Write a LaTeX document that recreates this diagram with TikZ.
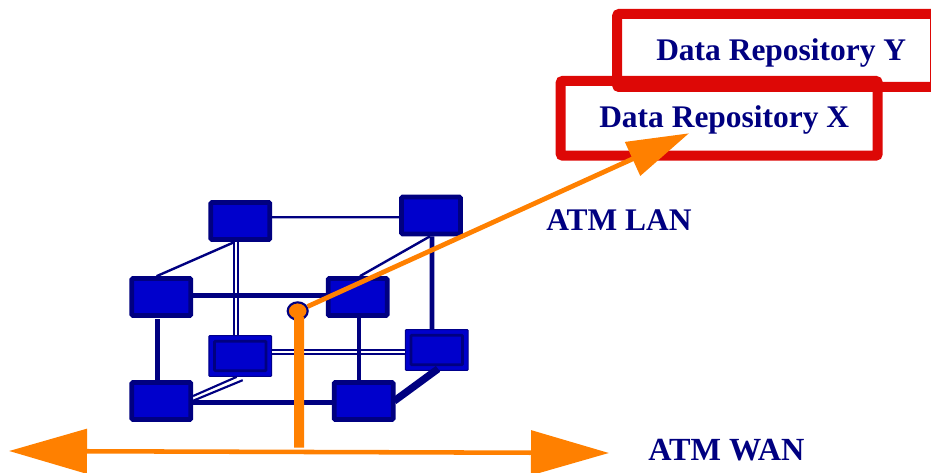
\documentclass[tikz,border=0pt]{standalone}
\usepackage{fontspec}
\setmainfont{Liberation Serif}
\usetikzlibrary{arrows.meta,shapes.geometric}
\definecolor{navyb}{HTML}{000080}
\definecolor{blueb}{HTML}{0000CC}
\definecolor{orangeb}{HTML}{FF8000}
\definecolor{redb}{HTML}{DD0806}
\tikzset{
  cube/.style={rectangle,draw=navyb,fill=blueb,line width=3.5pt,rounded corners=0.8pt,
    minimum width=44.25pt,minimum height=27.75pt,inner sep=0pt},
  inset/.style={rectangle,draw=navyb!85!blueb,fill=blueb,line width=0.8pt,rounded corners=0.6pt,
    minimum width=47pt,minimum height=30.5pt,inner sep=0pt,
    path picture={\draw[navyb,line width=2pt]
      ([xshift=4.2pt,yshift=4.2pt]path picture bounding box.south west) rectangle
      ([xshift=-4.2pt,yshift=-4.2pt]path picture bounding box.north east);}},
  thinlink/.style={navyb,line width=1.8pt},
  midlink/.style={navyb,line width=3.5pt},
  twin/.style={draw=navyb,double=white,line width=1.5pt,double distance=1.3pt},
  repo/.style={rectangle,draw=redb,line width=7.5pt,rounded corners=1.5pt,inner sep=0pt},
  label/.style={text=navyb,font=\bfseries\fontsize{23.6}{28}\selectfont,inner sep=0pt},
  feed/.style={orangeb,line width=3.6pt},
}
\begin{document}
\begin{tikzpicture}[x=0.75pt,y=-0.75pt]
\useasboundingbox (0,0) rectangle (931,473);
\clip (0,0) rectangle (931,473);
% repositories
\node[repo,fill=white,minimum width=237.75pt,minimum height=56pt] (rx) at (719.2,118.3) {};
\node[repo,minimum width=238.5pt,minimum height=54.75pt] (ry) at (776.2,50.5) {};
\node[label,anchor=base west] (lx) at (599,128) {Data Repository X};
\node[label,anchor=base west] (ly) at (656,61) {Data Repository Y};
\node[label,anchor=base west] (lan) at (546,231) {ATM LAN};
\node[label,anchor=base west,font=\bfseries\fontsize{24.2}{28}\selectfont] (wan) at (648,460) {ATM WAN};
% cube nodes
\node[cube] (A) at (240.3,221) {};
\node[cube] (B) at (431,215.5) {};
\node[cube] (C) at (161.3,297) {};
\node[cube] (D) at (357.7,297) {};
\node[inset] (E) at (240.3,356) {};
\node[inset] (F) at (436.7,350) {};
\node[cube] (G) at (161.3,401) {};
\node[cube] (H) at (363.7,401) {};
% cube links
\draw[thinlink] ([yshift=2.8pt]A.east) -- ([yshift=-1.35pt]B.west);
\draw[thinlink] ([xshift=-4pt]A.south) -- ([xshift=-3.5pt]C.north);
\draw[twin] ([xshift=-3.4pt]A.south) -- ([xshift=-3.4pt]E.north);
\draw[twin] ([yshift=3pt]E.east) -- ([yshift=-1.5pt]F.west);
\draw[thinlink,line width=1.6pt] ([xshift=-2.7pt]E.south) -- ([yshift=3.75pt]G.east);
\draw[thinlink,line width=1.6pt] ([xshift=1.8pt,yshift=-2.5pt]E.south) -- ([yshift=0.2pt]G.east);
\draw[thinlink] ([xshift=-0.75pt]B.south) -- ([xshift=1.7pt]D.north);
\draw[midlink] ([xshift=0.75pt]B.south) -- ([xshift=-3.5pt]F.north);
\draw[midlink] ([yshift=1.3pt]C.east) -- ([yshift=1.3pt]D.west);
\draw[midlink] ([xshift=-3pt,yshift=-1pt]C.south) -- ([xshift=-3pt]G.north);
\draw[midlink] ([xshift=1pt]D.south) -- ([xshift=-3.5pt]H.north);
\draw[midlink] ([yshift=-1pt]G.east) -- ([yshift=-1pt]H.west);
\draw[navyb,line width=5.5pt] ([xshift=1pt,yshift=1.5pt]F.south) -- ([xshift=-1pt]H.east);
% access point and orange feeds
\node[ellipse,draw=navyb,fill=orangeb,line width=1.6pt,minimum width=15pt,minimum height=13pt,inner sep=0pt] (dot) at (297.7,311) {};
\coordinate (rtip) at (689,133.3);
\coordinate (wl) at (9,451);
\coordinate (wr) at (609,453);
\coordinate (wjoin) at (299,447.7);
\draw[feed,-{Triangle[length=46.5pt,width=27pt]}] (dot) -- (rtip);
\draw[orangeb,line width=7.5pt] ([xshift=1pt,yshift=-4.5pt]dot.center) -- (wjoin);
\draw[feed,line width=3.4pt,{Triangle[length=58.5pt,width=33pt]}-{Triangle[length=58.5pt,width=33pt]}] (wl) -- (wr);
\end{tikzpicture}
\end{document}
